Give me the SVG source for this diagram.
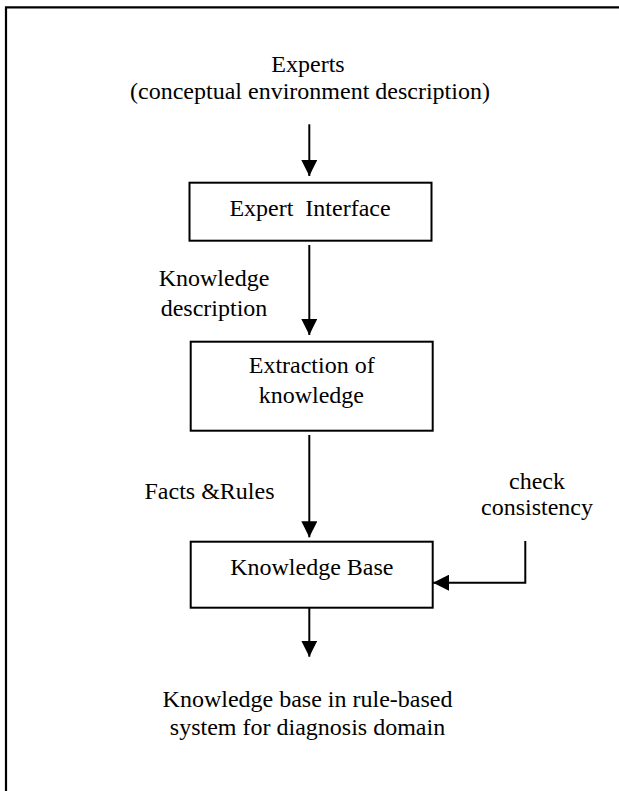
<svg xmlns="http://www.w3.org/2000/svg" width="619" height="791" viewBox="0 0 619 791">
<style>
  text { font-family: "Liberation Serif", "Times New Roman", serif; font-size: 24px; fill: #000; text-anchor: middle; white-space: pre; }
  .box { fill: #fff; stroke: #000; stroke-width: 2; }
  .conn { fill: none; stroke: #000; stroke-width: 2; }
  .frame { fill: none; stroke: #000; stroke-width: 2.2; }
</style>
<defs>
  <marker id="arrow" viewBox="0 0 16 16" refX="16" refY="8" markerWidth="16" markerHeight="16" markerUnits="userSpaceOnUse" orient="auto">
    <path d="M0,0 L16,8 L0,16 z" fill="#000"/>
  </marker>
</defs>
<path class="frame" d="M6,791 V7.3 H619"/>

<g id="experts">
  <text x="308" y="72">Experts</text>
  <text x="310" y="99">(conceptual environment description)</text>
</g>
<g id="expert-interface">
  <rect class="box" x="189.5" y="182.7" width="242" height="58"/>
  <text x="310" y="216">Expert  Interface</text>
</g>
<g id="extraction">
  <rect class="box" x="190.7" y="341.7" width="242" height="89"/>
  <text x="311.7" y="373.3">Extraction of</text>
  <text x="311.3" y="402.7">knowledge</text>
</g>
<g id="knowledge-base">
  <rect class="box" x="190.7" y="541.7" width="242" height="66"/>
  <text x="311.8" y="575">Knowledge Base</text>
</g>
<g id="output">
  <text x="307.5" y="707.3">Knowledge base in rule-based</text>
  <text x="307.5" y="735">system for diagnosis domain</text>
</g>
<g id="check-consistency">
  <text x="537" y="489">check</text>
  <text x="537" y="515">consistency</text>
</g>

<g id="connectors">
  <line class="conn" x1="309.3" y1="124.3" x2="309.3" y2="176" marker-end="url(#arrow)"/>
  <line class="conn" x1="309.3" y1="245" x2="309.3" y2="335" marker-end="url(#arrow)"/>
  <line class="conn" x1="309.3" y1="435" x2="309.3" y2="537.3" marker-end="url(#arrow)"/>
  <line class="conn" x1="309.3" y1="608" x2="309.3" y2="656.7" marker-end="url(#arrow)"/>
  <path class="conn" d="M525.3,541 V582.7 H433" marker-end="url(#arrow)"/>
  <text x="214" y="286">Knowledge</text>
  <text x="214" y="316">description</text>
  <text x="209.5" y="499.3">Facts &amp;Rules</text>
</g>
</svg>
